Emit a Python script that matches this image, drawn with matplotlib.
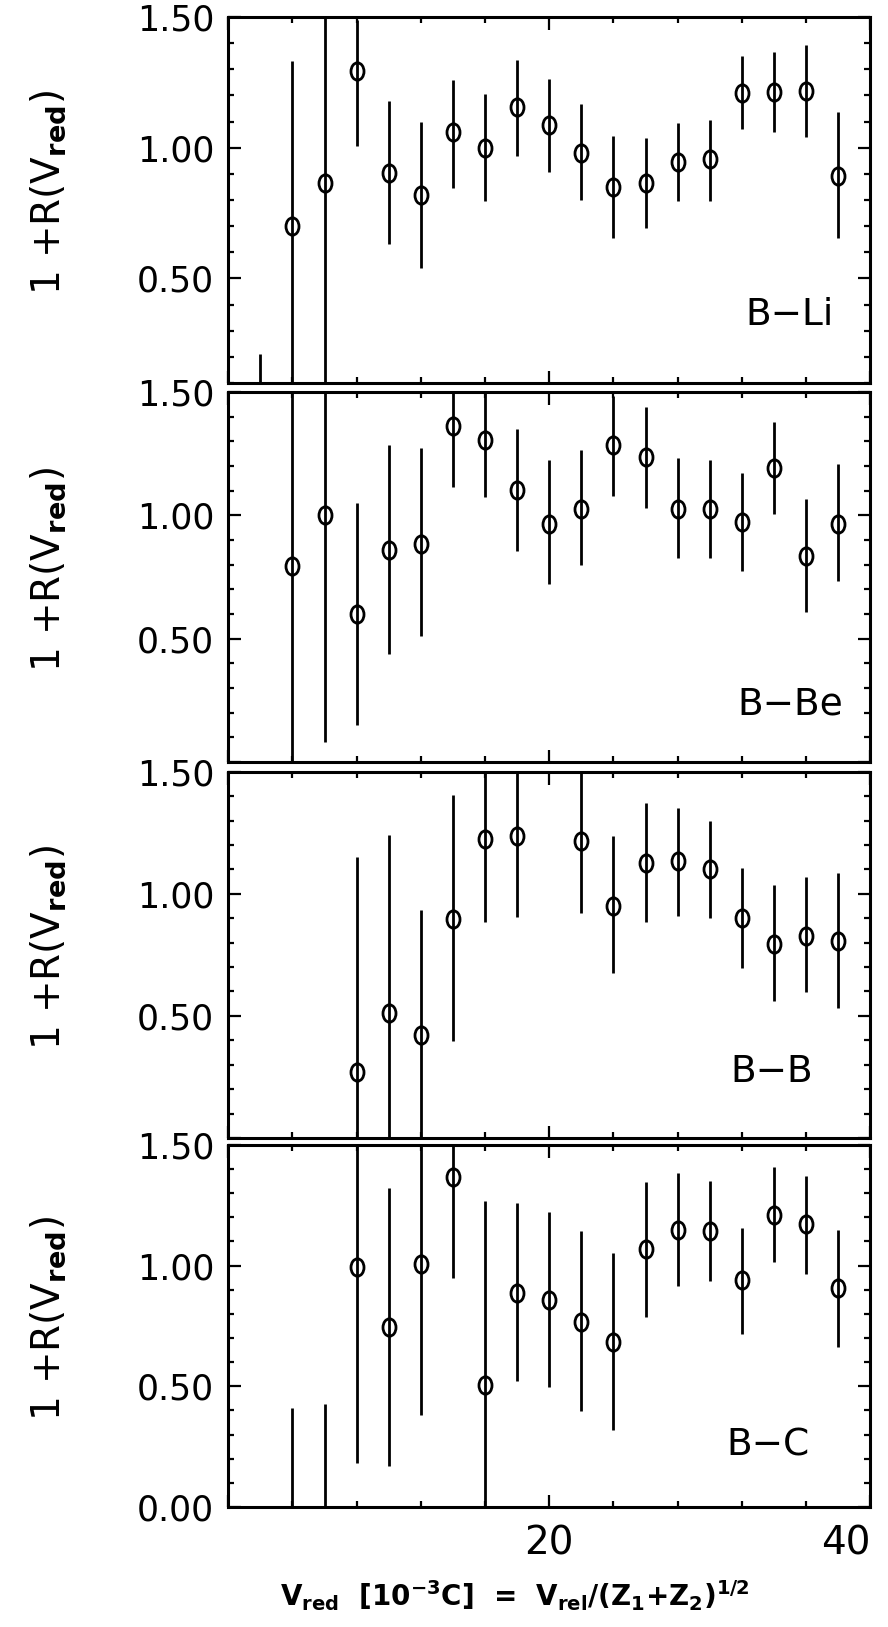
import numpy as np
import matplotlib
matplotlib.use("Agg")
import matplotlib.pyplot as plt
from matplotlib.path import Path
from matplotlib.ticker import MultipleLocator

plt.rcParams['font.family'] = ['DejaVu Sans']
plt.rcParams['mathtext.fontset'] = 'dejavusans'

# data: centre value, lower and upper end of each error bar
x_li = [2, 4, 6, 8, 10, 12, 14, 16, 18, 20, 22, 24, 26, 28, 30, 32, 34, 36, 38]
y_li = [-0.2, 0.70, 0.865, 1.295, 0.904, 0.82, 1.058, 1.0, 1.154, 1.086,
        0.981, 0.849, 0.865, 0.946, 0.955, 1.209, 1.212, 1.215, 0.891]
lo_li = [-0.6, -0.1, 0.0, 1.006, 0.63, 0.54, 0.846, 0.795, 0.97, 0.906,
         0.80, 0.654, 0.692, 0.797, 0.797, 1.073, 1.06, 1.041, 0.654]
hi_li = [0.21, 1.33, 1.75, 1.49, 1.18, 1.10, 1.26, 1.205, 1.336, 1.263,
         1.167, 1.045, 1.038, 1.096, 1.105, 1.349, 1.365, 1.394, 1.135]

x_be = [4, 6, 8, 10, 12, 14, 16, 18, 20, 22, 24, 26, 28, 30, 32, 34, 36, 38]
y_be = [0.793, 1.0, 0.60, 0.858, 0.885, 1.362, 1.304, 1.101, 0.966, 1.027,
        1.284, 1.236, 1.027, 1.024, 0.973, 1.193, 0.834, 0.966]
lo_be = [-0.2, 0.081, 0.149, 0.439, 0.509, 1.115, 1.074, 0.854, 0.72, 0.80,
         1.077, 1.03, 0.827, 0.828, 0.774, 1.007, 0.608, 0.734]
hi_be = [1.8, 1.8, 1.051, 1.284, 1.274, 1.6, 1.6, 1.351, 1.226, 1.264,
         1.484, 1.439, 1.234, 1.223, 1.172, 1.378, 1.064, 1.209]

x_b = [8, 10, 12, 14, 16, 18, 22, 24, 26, 28, 30, 32, 34, 36, 38]
y_b = [0.27, 0.511, 0.42, 0.897, 1.226, 1.237, 1.216, 0.952, 1.127, 1.133,
       1.10, 0.901, 0.795, 0.829, 0.808]
lo_b = [-0.2, -0.2, -0.2, 0.397, 0.886, 0.904, 0.922, 0.675, 0.884, 0.908,
        0.901, 0.696, 0.562, 0.596, 0.534]
hi_b = [1.151, 1.242, 0.932, 1.404, 1.6, 1.6, 1.6, 1.237, 1.373, 1.353,
        1.297, 1.105, 1.037, 1.071, 1.085]

x_c = [4, 6, 8, 10, 12, 14, 16, 18, 20, 22, 24, 26, 28, 30, 32, 34, 36, 38]
y_c = [-0.3, -0.3, 0.996, 0.745, 1.005, 1.369, 0.504, 0.888, 0.858, 0.768,
       0.684, 1.07, 1.148, 1.142, 0.939, 1.21, 1.172, 0.908]
lo_c = [-0.8, -0.8, 0.183, 0.169, 0.382, 0.949, -0.3, 0.522, 0.495, 0.396,
        0.318, 0.789, 0.915, 0.938, 0.718, 1.016, 0.966, 0.664]
hi_c = [0.409, 0.428, 1.8, 1.321, 1.7, 1.6, 1.267, 1.26, 1.222, 1.145,
        1.054, 1.346, 1.382, 1.351, 1.154, 1.407, 1.373, 1.148]

panel_names = ['B\u2212Li', 'B\u2212Be', 'B\u2212B', 'B\u2212C']

# axes boxes in figure fractions (left, bottom, width, height)
boxes = [(0.257, 0.7646, 0.723, 0.2250),
         (0.257, 0.5317, 0.723, 0.2274),
         (0.257, 0.3006, 0.723, 0.2250),
         (0.257, 0.0738, 0.723, 0.2225)]
ymins = [0.1, 0.0, 0.0, 0.0]
name_pos = [(0.875, 0.185), (0.876, 0.154), (0.846, 0.18), (0.84, 0.17)]

series = [(x_li, y_li, lo_li, hi_li), (x_be, y_be, lo_be, hi_be),
          (x_b, y_b, lo_b, hi_b), (x_c, y_c, lo_c, hi_c)]

# slightly tall open circle like the scan
circ = Path.unit_circle()
ell = Path(circ.vertices * np.array([0.75, 1.0]), circ.codes)

fig = plt.figure(figsize=(8.88, 16.27), dpi=100)

for i, (xs, ys, lo, hi) in enumerate(series):
    ax = fig.add_axes(boxes[i])
    xs = np.array(xs); ys = np.array(ys)
    lo = np.array(lo); hi = np.array(hi)
    ax.errorbar(xs, ys, yerr=[ys - lo, hi - ys], fmt='none', ecolor='k',
                elinewidth=2.0, capsize=0)
    ax.plot(xs, ys, ls='none', marker=ell, ms=12.5, mfc='none', mec='k', mew=2.0)

    ax.set_xlim(0, 40)
    ax.set_ylim(ymins[i], 1.5)
    for s in ax.spines.values():
        s.set_linewidth(2.2)

    ax.set_xticks([0, 20, 40])
    ax.xaxis.set_minor_locator(MultipleLocator(4))
    if i == 3:
        ax.set_yticks([0.0, 0.5, 1.0, 1.5])
        ax.set_yticklabels(['0.00', '0.50', '1.00', '1.50'])
        ax.set_xticklabels(['', '20', '40'])
        ax.get_xticklabels()[-1].set_horizontalalignment('right')
    else:
        ticks = [t for t in [0.0, 0.5, 1.0, 1.5] if t >= ymins[i]]
        ax.set_yticks(ticks)
        ax.set_yticklabels(['' if t == 0 else '%.2f' % t for t in ticks])
        ax.set_xticklabels([])
    ax.yaxis.set_minor_locator(MultipleLocator(0.1))
    ax.tick_params(which='both', direction='in', top=True, right=True, width=1.6)
    ax.tick_params(which='major', length=9)
    ax.tick_params(which='minor', length=4)
    ax.tick_params(axis='y', pad=10, labelsize=25)
    ax.tick_params(axis='x', pad=13, labelsize=28)

    ax.text(name_pos[i][0], name_pos[i][1], panel_names[i], transform=ax.transAxes,
            ha='center', va='center', fontsize=27)
    ax.text(-0.28, 0.52, r'1 +R(V$_{\mathbf{red}}$)', transform=ax.transAxes,
            rotation=90, ha='center', va='center', fontsize=28)

fig.text(0.58, 0.0195,
         r'$\mathbf{V_{red}}$  [10$^{\mathbf{-3}}$C]  =  $\mathbf{V_{rel}}$/(Z$_{\mathbf{1}}$+Z$_{\mathbf{2}}$)$^{\mathbf{1/2}}$',
         ha='center', va='center', fontsize=20, fontweight='bold')

fig.savefig('out.png', dpi=100, facecolor='white')
